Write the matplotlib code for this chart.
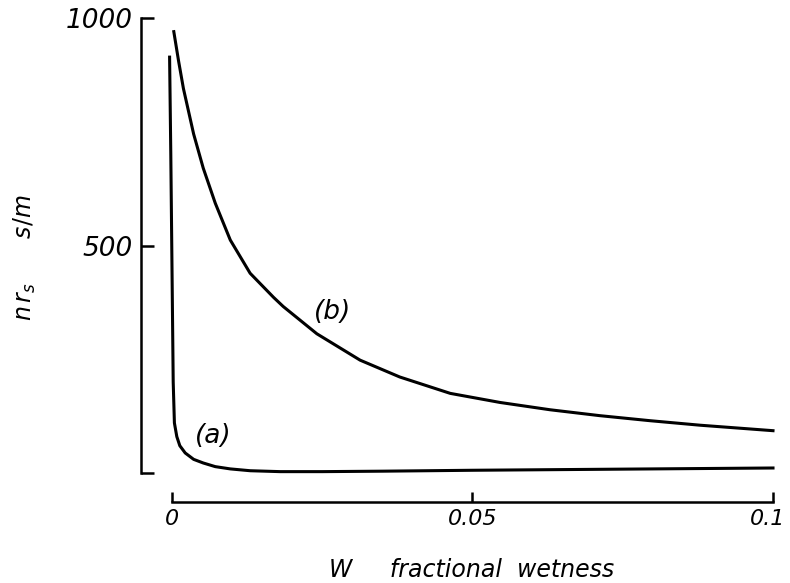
import matplotlib
matplotlib.use('Agg')
import matplotlib.pyplot as plt
from matplotlib.transforms import ScaledTranslation

plt.rcParams['font.family'] = ['DejaVu Sans']
plt.rcParams['mathtext.fontset'] = 'dejavusans'
plt.rcParams['mathtext.default'] = 'it'

# curve (a): sharp drop near W = 0
wet_a = [-0.0004, -0.0002, 0.0, 0.0002, 0.0004, 0.0008, 0.0013, 0.0022, 0.0036,
         0.0052, 0.0072, 0.0097, 0.013, 0.018, 0.025, 0.035, 0.05, 0.06, 0.07,
         0.08, 0.09, 0.1]
rs_a = [914, 700, 450, 200, 110, 80, 60, 44, 30,
        22, 14, 9, 5, 3, 3, 4, 6, 7, 8,
        9, 10, 11]

# curve (b): slower decay
wet_b = [0.0003, 0.0011, 0.0019, 0.0036, 0.0052, 0.0072, 0.0097, 0.0130, 0.0169,
         0.0185, 0.0241, 0.0313, 0.0379, 0.0463, 0.0546, 0.0629, 0.0712, 0.0795,
         0.0879, 0.1]
rs_b = [970, 905, 845, 745, 670, 593, 512, 439, 386,
        366, 306, 248, 211, 175, 155, 139, 126, 115,
        105, 93]

xticks = [0, 0.05, 0.1]
xlabels = ['0', '0.05', '0.1']
yticks = [0, 500, 1000]
ylabels = ['', '500', '1000']

fig = plt.figure(figsize=(7.9, 5.83), dpi=100)
ax = fig.add_axes([172 / 790, 1 - 473 / 583, 601 / 790, 455 / 583])

ax.plot(wet_a, rs_a, color='black', lw=2.2, clip_on=False)
ax.plot(wet_b, rs_b, color='black', lw=2.2, clip_on=False)

ax.set_xlim(0, 0.1)
ax.set_ylim(0, 1000)

for s in ['top', 'right']:
    ax.spines[s].set_visible(False)
ax.spines['left'].set_position(('outward', 22))
ax.spines['bottom'].set_position(('outward', 21))
ax.spines['left'].set_bounds(0, 1000)
ax.spines['bottom'].set_bounds(0, 0.1)
ax.spines['left'].set_linewidth(1.8)
ax.spines['bottom'].set_linewidth(1.8)

ax.set_xticks(xticks)
ax.set_xticklabels(xlabels, fontstyle='italic', fontsize=16)
ax.set_yticks(yticks)
ax.set_yticklabels(ylabels, fontstyle='italic', fontsize=19)
ax.tick_params(axis='x', direction='in', length=7, width=1.8, pad=5)
ax.tick_params(axis='y', direction='in', length=9, width=1.8, pad=6)

# nudge the last x label so it stays inside the figure
last = ax.get_xticklabels()[-1]
last.set_transform(last.get_transform() + ScaledTranslation(-4 / 72, 0, fig.dpi_scale_trans))

ax.text(0.0068, 81, '(a)', fontsize=19, fontstyle='italic', ha='center', va='center')
ax.text(0.0268, 354, '(b)', fontsize=19, fontstyle='italic', ha='center', va='center')

fig.text(25 / 790, 1 - 258 / 583, r'$n\,r_s$      $s/m$', rotation=90,
         fontsize=17, ha='center', va='center')
fig.text(472 / 790, 1 - 570 / 583, 'W     fractional  wetness',
         fontsize=17, fontstyle='italic', ha='center', va='center')

fig.savefig('out.png', dpi=100)
